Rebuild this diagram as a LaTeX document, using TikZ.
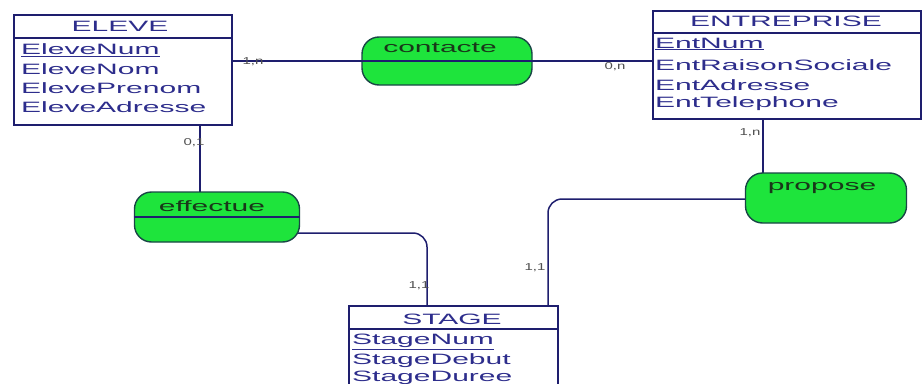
\documentclass[tikz,border=0pt]{standalone}
\usepackage{fontspec}
\setmainfont{Liberation Sans}
\definecolor{navy}{RGB}{30,30,110}
\definecolor{txtblue}{RGB}{45,45,140}
\definecolor{assocgreen}{RGB}{30,228,60}
\definecolor{assocborder}{RGB}{25,70,70}
\definecolor{assoctext}{RGB}{25,55,25}
\definecolor{cardgray}{RGB}{80,80,80}
\newcommand\wide[1]{\scalebox{2.0}[1]{#1}}
\newcommand\cwide[1]{\scalebox{1.5}[1]{#1}}
\pgfdeclarelayer{bg}
\pgfsetlayers{bg,main}
\tikzset{
  entity/.style={draw=navy, line width=1.6pt, fill=white, rectangle, anchor=north west, inner sep=0pt},
  assoc/.style={draw=assocborder, line width=1.4pt, fill=assocgreen, rectangle, rounded corners=17pt, inner sep=0pt},
  attr/.style={anchor=west, inner sep=0pt, text=txtblue, font=\fontsize{15}{17}\selectfont},
  etitle/.style={anchor=center, inner sep=0pt, text=txtblue, font=\fontsize{15}{17}\selectfont},
  atext/.style={anchor=center, inner sep=0pt, text=assoctext, font=\fontsize{15}{17}\selectfont},
  card/.style={anchor=center, inner sep=0pt, text=cardgray, font=\fontsize{10}{11}\selectfont},
  link/.style={draw=navy, line width=1.5pt},
  sep/.style={draw=navy, line width=1.4pt}
}
\begin{document}
\begin{tikzpicture}[x=1pt,y=-1pt]
\useasboundingbox (0,0) rectangle (924,383);
\begin{pgfonlayer}{bg}
\fill[white] (0,0) rectangle (924,383);
\end{pgfonlayer}

% entities
\node[entity, minimum width=218pt, minimum height=110pt] (eleve) at (13,14) {};
\node[entity, minimum width=268pt, minimum height=108pt] (entreprise) at (652,10) {};
\node[entity, minimum width=209pt, minimum height=100pt] (stage) at (348,305) {};

% title separators
\coordinate (t1) at (0,38);
\coordinate (t2) at (0,33);
\coordinate (t3) at (0,329);
\draw[sep] (eleve.west |- t1) -- (eleve.east |- t1);
\draw[sep] (entreprise.west |- t2) -- (entreprise.east |- t2);
\draw[sep] (stage.west |- t3) -- (stage.east |- t3);

% entity texts
\node[etitle] (eleveT) at (120,26) {\wide{ELEVE}};
\node[attr] (e1) at (21,50) {\wide{\underline{EleveNum}}};
\node[attr] (e2) at (21,69) {\wide{EleveNom}};
\node[attr] (e3) at (21,88) {\wide{ElevePrenom}};
\node[attr] (e4) at (21,107) {\wide{EleveAdresse}};

\node[etitle] (entT) at (786,21) {\wide{ENTREPRISE}};
\node[attr] (n1) at (655,44) {\wide{\underline{EntNum}}};
\node[attr] (n2) at (655,65) {\wide{EntRaisonSociale}};
\node[attr] (n3) at (655,85) {\wide{EntAdresse}};
\node[attr] (n4) at (655,104) {\wide{EntTelephone}};

\node[etitle] (stT) at (452,319) {\wide{STAGE}};
\node[attr] (s1) at (352,342) {\wide{\underline{StageNum}}};
\node[attr] (s2) at (352,361) {\wide{StageDebut}};
\node[attr] (s3) at (352,378) {\wide{StageDuree}};

% associations
\node[assoc, minimum width=170pt, minimum height=48pt] (contacte) at (447,61) {};
\node[assoc, minimum width=165pt, minimum height=50pt] (effectue) at (217,217) {};
\node[assoc, minimum width=161pt, minimum height=50pt] (propose) at (826,198) {};

\draw[sep] (contacte.west) -- (contacte.east);
\draw[sep] (effectue.west) -- (effectue.east);

\node[atext] (cT) at (440,48) {\wide{contacte}};
\node[atext] (eT) at (212,206) {\wide{effectue}};
\node[atext] (pT) at (822,188) {\wide{propose}};

% connectors
\coordinate (ve) at (200,0);
\coordinate (vp) at (763,0);
\coordinate (k1) at (427,233);
\coordinate (k2) at (548,199);
\begin{pgfonlayer}{bg}
\draw[link] (eleve.east |- contacte.center) -- (contacte.center);
\draw[link] (contacte.center) -- (entreprise.west |- contacte.center);
\draw[link] (eleve.south -| ve) -- (effectue.center -| ve);
\draw[link] (entreprise.south -| vp) -- (propose.center -| vp);
\draw[link, rounded corners=14pt] (effectue.center |- k1) -- (k1) -- (k1 |- stage.north);
\draw[link, rounded corners=14pt] (propose.center |- k2) -- (k2) -- (k2 |- stage.north);
\end{pgfonlayer}

% cardinalities
\node[card] (c1) at (253,62) {\cwide{1,n}};
\node[card] (c2) at (615,67) {\cwide{0,n}};
\node[card] (c3) at (194,143) {\cwide{0,1}};
\node[card] (c4) at (750,133) {\cwide{1,n}};
\node[card] (c5) at (419,286) {\cwide{1,1}};
\node[card] (c6) at (535,268) {\cwide{1,1}};
\end{tikzpicture}
\end{document}
